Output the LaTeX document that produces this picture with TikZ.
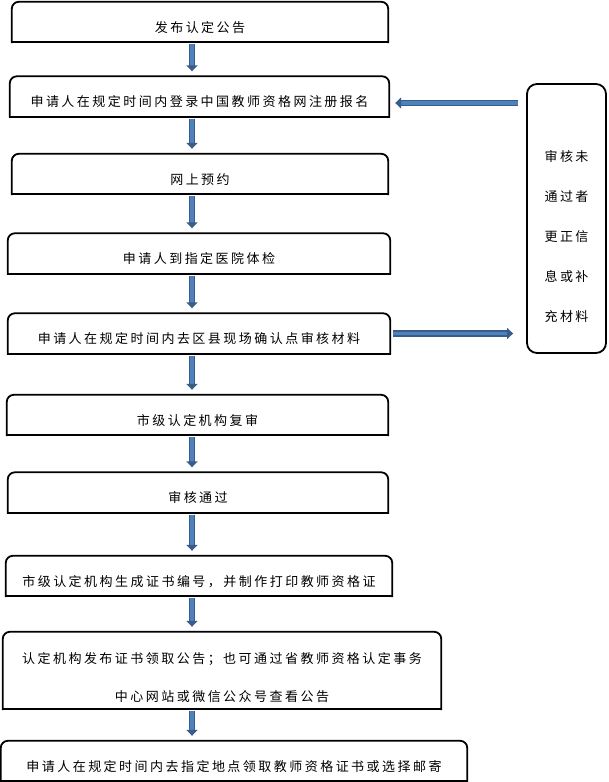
\documentclass[tikz,border=0pt]{standalone}
\usepackage{fontspec}
\setmainfont{Noto Sans CJK SC}[LetterSpace=19]
\usetikzlibrary{arrows.meta}
\definecolor{arrowline}{HTML}{385D8A}
\definecolor{arrowfill}{HTML}{4F81BD}
% box with round top corners, square bottom
\newcommand{\stepframe}[1]{
  \draw[boxline,rounded corners=7pt] (#1.south west) -- (#1.north west)
    -- (#1.north east) -- (#1.south east);
  \draw[boxline] (#1.south west) -- (#1.south east);
}

\begin{document}
\begin{tikzpicture}[
  x=1pt,y=-1pt,
  font=\fontsize{13}{14}\selectfont,
  stepbox/.style={inner sep=0pt,text height=30pt,text depth=10pt,minimum width=#1},
  boxline/.style={line width=1.8pt,line cap=rect},
  flowarrow/.style={draw=arrowline,line width=1.6pt,double=arrowfill,double distance=3.5pt,
    -{Triangle[length=6pt,width=11pt]},shorten <=2pt,shorten >=5pt},
  ]
  \useasboundingbox (0,0) rectangle (608,782);
  \coordinate (spine) at (192,0);

  \node[stepbox=376pt] (notice) at (200,22) {发布认定公告};
  \node[stepbox=379pt] (signup) at (199.5,96.5) {申请人在规定时间内登录中国教师资格网注册报名};
  \node[stepbox=376pt] (booking) at (200,174) {网上预约};
  \node[stepbox=382pt] (medical) at (199,253.5) {申请人到指定医院体检};
  \node[stepbox=382pt] (review) at (199,333.5) {申请人在规定时间内去区县现场确认点审核材料};
  \node[stepbox=381pt] (recheck) at (197.5,415) {市级认定机构复审};
  \node[stepbox=380pt] (passed) at (198,492.5) {审核通过};
  \node[stepbox=386pt] (print) at (199,576) {市级认定机构生成证书编号，并制作打印教师资格证};
  \node[stepbox=438pt,text height=69.6pt,text depth=7.4pt] (announce) at (222,670.5)
    {\begin{tabular}[b]{@{}c@{}}认定机构发布证书领取公告；也可通过省教师资格认定事务\\[23pt]
     中心网站或微信公众号查看公告\end{tabular}};
  \node[stepbox=466pt] (collect) at (234,761) {申请人在规定时间内去指定地点领取教师资格证书或选择邮寄};

  \node[draw,line width=1.8pt,rounded corners=10pt,inner sep=0pt,minimum width=79pt,
    text height=237.6pt,text depth=31.4pt] (fail) at (566.5,218.5)
    {\begin{tabular}[b]{@{}c@{}}审核未\\[24.75pt]通过者\\[24.75pt]更正信\\[24.75pt]
     息或补\\[24.75pt]充材料\end{tabular}};

  \foreach \n in {notice,signup,booking,medical,review,recheck,passed,print,announce,collect}
    {\stepframe{\n}}

  \foreach \a/\b in {notice/signup,signup/booking,booking/medical,medical/review,
    review/recheck,recheck/passed,passed/print,print/announce,announce/collect}
    \draw[flowarrow] (\a.south -| spine) -- (\b.north -| spine);
  \draw[flowarrow,shorten <=8pt,shorten >=6pt] ([yshift=-6.5pt]fail.west |- signup.east)
    -- ([yshift=-6.5pt]signup.east);
  \draw[flowarrow,shorten <=3pt,shorten >=13pt] (review.east) -- (fail.west |- review.east);
\end{tikzpicture}
\end{document}
